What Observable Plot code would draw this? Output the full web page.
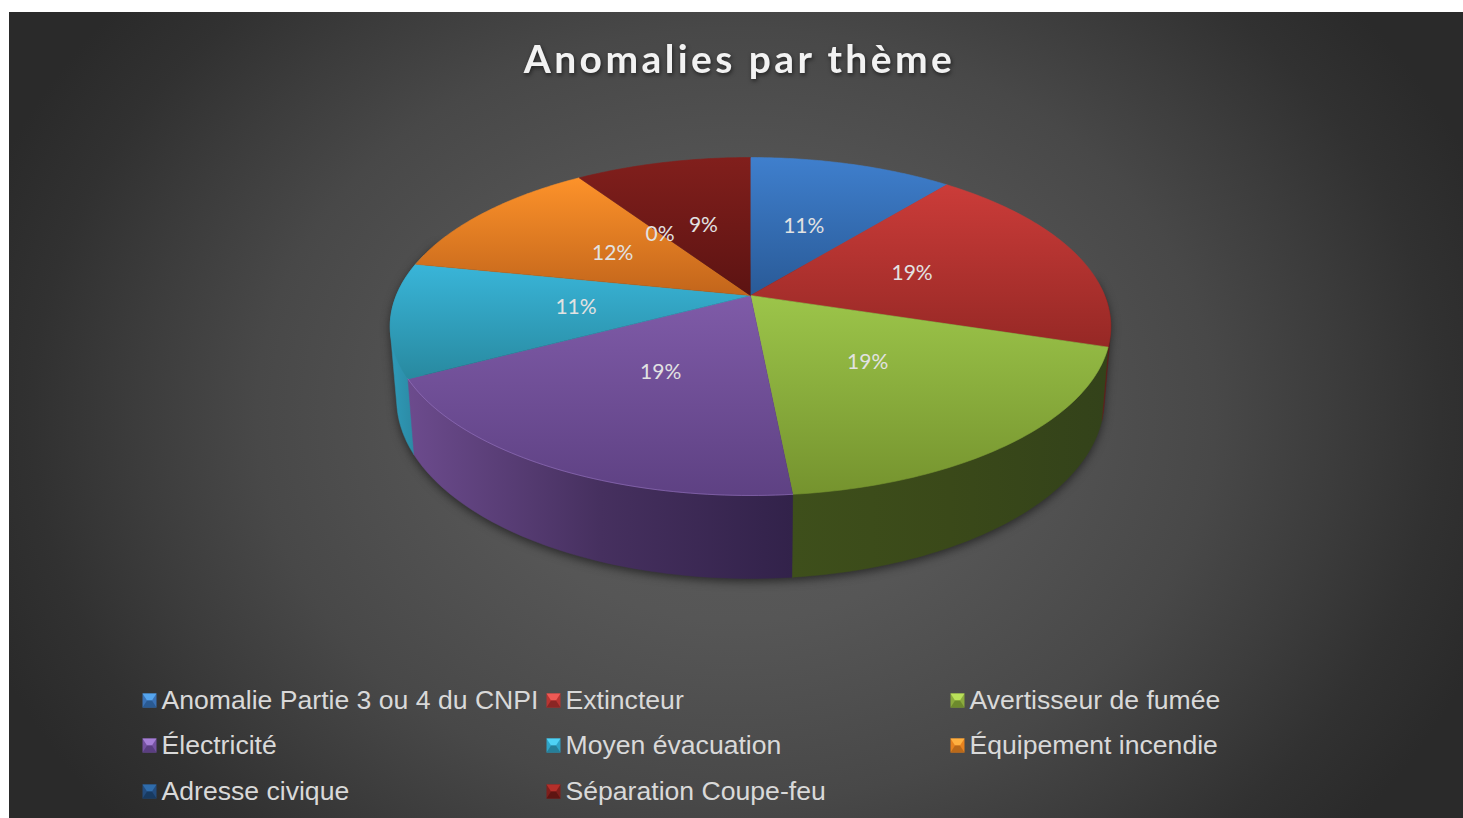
<!DOCTYPE html>
<html lang="fr">
<head>
<meta charset="utf-8">
<script src="https://cdn.jsdelivr.net/npm/d3@7"></script>
<script src="https://cdn.jsdelivr.net/npm/@observablehq/plot@0.6"></script>
<style>
  html, body { margin: 0; padding: 0; background: #fff; overflow: hidden; width: 1463px; height: 818px; }
  #panel { position: absolute; left: 9px; top: 12px; width: 1454px; height: 806px;
    background: radial-gradient(ellipse 55% 80% at 50% 50%, #5c5c5c 0%, #565656 32%, #484848 60%, #3c3c3c 75%, #313131 88%, #2a2a2a 100%); }
  #chart { position: absolute; left: 0; top: 0; }
</style>
</head>
<body>
<div id="panel"></div>
<div id="chart"></div>
<script>
const chartTitle = "Anomalies par thème";
const categories = ["Anomalie Partie 3 ou 4 du CNPI", "Extincteur", "Avertisseur de fumée", "Électricité",
  "Moyen évacuation", "Équipement incendie", "Adresse civique", "Séparation Coupe-feu"];
const values = [10.9, 18.9, 18.6, 18.8, 10.9, 12.4, 0, 9.4];
const topLight = ["#3f7fcd", "#cb3c39", "#9cc54a", "#7f5ba8", "#39b5d9", "#fd922a", "#24507f", "#811f1c"];
const topDark  = ["#295a97", "#962825", "#75932e", "#5e4183", "#28899f", "#c2651b", "#1b3c60", "#5c1312"];
const wallLeft  = ["#2c5a90", "#6a1f1d", "#3e4f1b", "#6c4b8d", "#2f9ab8", "#b06018", "#1b3c60", "#5c1312"];
const wallMid   = ["#2c5a90", "#621c1a", "#3a4919", "#46305f", "#2c8da8", "#b06018", "#1b3c60", "#5c1312"];
const wallRight = ["#2c5a90", "#5a1a18", "#33421a", "#32224a", "#2a8199", "#b06018", "#1b3c60", "#5c1312"];
const swatchTop = ["#55a5ee", "#ef5a55", "#b9e05a", "#a67fd6", "#4fd2f5", "#ffb040", "#2f6cab", "#b52f2a"];
const swatchMid = ["#3a72b6", "#b83532", "#8bab3e", "#7552a0", "#2fa3c6", "#e6821f", "#234c7e", "#7f1f1c"];
const swatchLow = ["#2a5a92", "#8a2624", "#6d8a2d", "#5a3e80", "#267f99", "#b9691a", "#183a60", "#5e1512"];
const legendColumns = [149, 553, 957];
const legendRows = [700, 745, 791];

// Perspective projection of the pie's top disc (apex at 750,295) and its base
const cx = 750, cy = 295, A = 354.2, B = 163.3, P = 0.1834;
const project = (r, deg) => {
  const t = deg * Math.PI / 180, u = r * Math.sin(t), v = r * Math.cos(t), d = 1 + P * v;
  return [cx + A * u / d, cy - B * v / d];
};
const base = ([x, y]) => [cx + (x - cx) * 0.982, cy + (y - cy) * 1.06 + 71];

const total = d3.sum(values);
let running = 0;
const slices = values.map((v, i) => {
  const a0 = running / total * 360; running += v; const a1 = running / total * 360;
  return {i, v, a0, a1, mid: (a0 + a1) / 2};
});
const arc = (a0, a1) => d3.range(0, 61).map((k) => a0 + (a1 - a0) * k / 60);
const pt = ([x, y]) => ({x, y});
const wedge = (s) => [pt([cx, cy]), ...arc(s.a0, s.a1).map((a) => pt(project(1, a)))];
// The outline of a wall is the convex hull of its top arc and its base arc
const wall = (a0, a1) => {
  const top = arc(a0, a1).map((a) => project(1, a));
  const hull = d3.polygonHull([...top, ...top.map(base)]);
  return [...hull, hull[0]].map(pt);
};

const defs = () => {
  const svg = d3.create("svg:g");
  const d = svg.append("defs");
  slices.forEach((s) => {
    const g = d.append("linearGradient").attr("id", `top${s.i}`).attr("x1", 0).attr("y1", 0).attr("x2", 0).attr("y2", 1);
    g.append("stop").attr("offset", "0%").attr("stop-color", topLight[s.i]);
    g.append("stop").attr("offset", "100%").attr("stop-color", topDark[s.i]);
    const h = d.append("linearGradient").attr("id", `wall${s.i}`).attr("x1", 0).attr("y1", 0).attr("x2", 1).attr("y2", 0);
    h.append("stop").attr("offset", "0%").attr("stop-color", wallLeft[s.i]);
    h.append("stop").attr("offset", "50%").attr("stop-color", wallMid[s.i]);
    h.append("stop").attr("offset", "100%").attr("stop-color", wallRight[s.i]);
  });
  return svg.node();
};

// Visible side walls, back to front
const wallSpans = [
  {i: 1, a0: 90, a1: slices[1].a1},
  {i: 4, a0: slices[4].a0, a1: 285},
  {i: 2, a0: slices[2].a0, a1: slices[2].a1},
  {i: 3, a0: slices[3].a0, a1: slices[3].a1}
];

const legend = categories.map((name, i) => ({
  name, i,
  x: legendColumns[i % 3],
  y: legendRows[Math.floor(i / 3)]
}));
const bevel = (pts) => ({
  draw(c, size) {
    const r = Math.sqrt(size / Math.PI);
    pts.forEach(([px, py], k) => k ? c.lineTo(px * r, py * r) : c.moveTo(px * r, py * r));
    c.closePath();
  }
});
const square = bevel([[-1, -1], [1, -1], [1, 1], [-1, 1]]);
const upper = bevel([[-1, -1], [1, -1], [0.35, 0], [-0.35, 0]]);
const lower = bevel([[-1, 1], [1, 1], [0.35, 0], [-0.35, 0]]);

const labels = slices.map((s) => {
  const [x, y] = project(0.49, s.mid);
  return {x, y, text: d3.format(".0%")(s.v / total)};
});

const marks = [
  defs,
  Plot.line(wall(84, 290), {x: "x", y: "y", fill: "#1c1c1c", stroke: "none", imageFilter: "blur(5px)", fillOpacity: 0.8, dy: 3}),
  ...wallSpans.map((w) => Plot.line(wall(w.a0, w.a1), {
    x: "x", y: "y", fill: `url(#wall${w.i})`, stroke: `url(#wall${w.i})`, strokeWidth: 0.5
  })),
  ...slices.filter((s) => s.v > 0).map((s) => Plot.line(wedge(s), {
    x: "x", y: "y", fill: `url(#top${s.i})`, stroke: `url(#top${s.i})`, strokeWidth: 0.6
  })),
  Plot.line(arc(slices[3].a0, slices[3].a1).map((a) => pt(project(1, a))), {
    x: "x", y: "y", stroke: "#9a78c4", strokeWidth: 1, strokeOpacity: 0.55
  }),
  Plot.text(labels, {x: "x", y: "y", dy: 0.5, dx: -0.5, text: "text", fill: "#e2e2e2", fontSize: 21, fontFamily: "Lato", textAnchor: "middle", lineAnchor: "middle"}),
  Plot.text([chartTitle], {x: () => 739, y: () => 60, text: (d) => d, fill: "#f2f2f2", fontSize: 39, fontWeight: 700,
    fontFamily: "Lato", textAnchor: "middle", lineAnchor: "middle"}),
  Plot.dot(legend, {x: "x", y: "y", r: 7, symbol: square, fill: (d) => swatchMid[d.i]}),
  Plot.dot(legend, {x: "x", y: "y", r: 7, symbol: upper, fill: (d) => swatchTop[d.i]}),
  Plot.dot(legend, {x: "x", y: "y", r: 7, symbol: lower, fill: (d) => swatchLow[d.i]}),
  Plot.text(legend, {x: (d) => d.x + 12, y: "y", text: "name", fill: "#d9d9d9", fontSize: 26.6,
    fontFamily: "Liberation Sans", textAnchor: "start", lineAnchor: "middle"})
];

const chart = Plot.plot({
  width: 1463, height: 818,
  marginTop: 0, marginRight: 0, marginBottom: 0, marginLeft: 0,
  x: {domain: [0, 1463], range: [0, 1463], axis: null},
  y: {domain: [0, 818], range: [0, 818], axis: null},
  color: {type: "identity"},
  style: {background: "transparent", overflow: "visible"},
  marks
});
chart.querySelectorAll("text").forEach((t) => {
  if (t.textContent === chartTitle) {
    t.style.letterSpacing = "3.4px";
    t.style.filter = "drop-shadow(1px 2px 2px rgba(0,0,0,.55))";
  }
});
document.getElementById("chart").appendChild(chart);
</script>
</body>
</html>
